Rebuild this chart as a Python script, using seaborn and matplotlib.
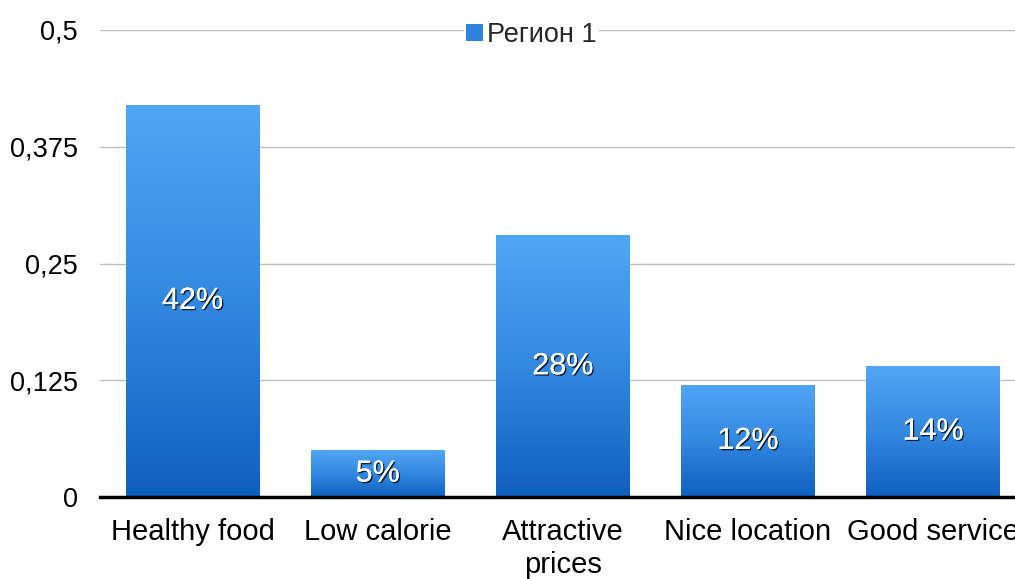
import numpy as np
import matplotlib
matplotlib.use("Agg")
import matplotlib.pyplot as plt
import matplotlib.patheffects as pe
from matplotlib.colors import LinearSegmentedColormap
from matplotlib.patches import Rectangle
import seaborn as sns

# Survey results
categories = ["Healthy food", "Low calorie", "Attractive\nprices", "Nice location", "Good service"]
values = [0.42, 0.05, 0.28, 0.12, 0.14]
y_ticks = [0, 0.125, 0.25, 0.375, 0.5]
y_tick_labels = ["0", "0,125", "0,25", "0,375", "0,5"]
series_name = "Регион 1"

sns.set_theme(style="white")
plt.rcParams["font.family"] = ["Liberation Sans", "DejaVu Sans"]

fig = plt.figure(figsize=(10.15, 5.79), dpi=100)
ax = fig.add_axes([0.0985, 0.1416, 0.912, 0.8066])

sns.barplot(x=categories, y=values, width=0.72, color="#3A8BE0", ax=ax, zorder=3)

# vertical blue gradient painted inside each bar
grad_cmap = LinearSegmentedColormap.from_list("bar_grad", ["#0F5FC0", "#3388E0", "#52A6F6"])
grad = np.linspace(0, 1, 256).reshape(-1, 1)
for patch in ax.patches:
    x0, y0 = patch.get_x(), patch.get_y()
    w, h = patch.get_width(), patch.get_height()
    im = ax.imshow(grad, extent=[x0, x0 + w, y0, y0 + h], origin="lower",
                   cmap=grad_cmap, aspect="auto", zorder=4, interpolation="bicubic")
    im.set_clip_path(patch)

ax.set_xlim(-0.5, len(categories) - 0.5)
ax.set_ylim(0, 0.5)
ax.set_yticks(y_ticks)
ax.set_yticklabels(y_tick_labels)
ax.yaxis.grid(True, color="#BDBDBD", linewidth=1.0, zorder=0)
ax.set_axisbelow(True)

for side in ["left", "right", "top"]:
    ax.spines[side].set_visible(False)
ax.spines["bottom"].set_color("black")
ax.spines["bottom"].set_linewidth(2.5)
ax.spines["bottom"].set_zorder(6)

ax.tick_params(axis="y", length=0, pad=16, labelsize=19.5, labelcolor="black")
ax.tick_params(axis="x", length=0, pad=15, labelsize=21, labelcolor="black")
for lbl in ax.get_xticklabels():
    lbl.set_linespacing(1.25)
ax.set_xlabel("")
ax.set_ylabel("")

# value labels in the middle of each bar
shadow = [pe.withSimplePatchShadow(offset=(1.0, -1.0), shadow_rgbFace="black", alpha=0.75), pe.Normal()]
for i, v in enumerate(values):
    ax.text(i, v / 2, f"{v * 100:.0f}%", ha="center", va="center", color="white",
            fontsize=22, zorder=7, path_effects=shadow)

handle = Rectangle((0, 0), 1, 1, facecolor="#2F82DC", edgecolor="none")
leg = ax.legend([handle], [series_name], loc="center", bbox_to_anchor=(0.466, 0.99),
                frameon=True, fontsize=19.5, handlelength=0.6, handleheight=0.6,
                handletextpad=0.15, borderpad=0.1, borderaxespad=0)
leg.get_frame().set_facecolor("white")
leg.get_frame().set_edgecolor("none")
leg.get_frame().set_alpha(1)
leg.set_zorder(8)

fig.savefig("out.png", dpi=100)
